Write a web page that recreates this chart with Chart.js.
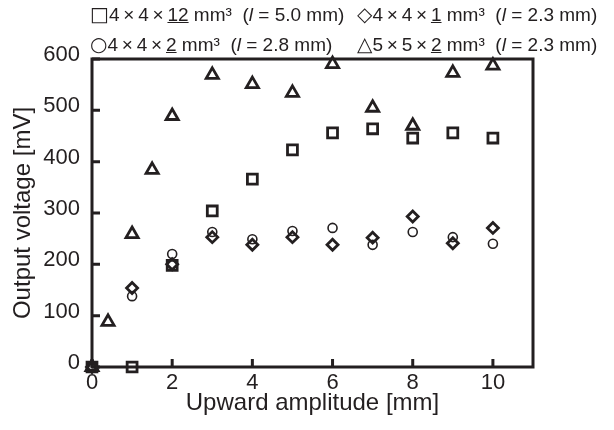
<!DOCTYPE html>
<html>
<head>
<meta charset="utf-8">
<script src="https://cdn.jsdelivr.net/npm/chart.js@4/dist/chart.umd.min.js"></script>
<style>
body { margin: 0; background: #fff; }
#wrap { position: relative; width: 614px; height: 430px; }
.legendItem {
    position: absolute;
    white-space: nowrap;
    font-family: Arial, "Liberation Sans", sans-serif;
    font-size: 19px;
    line-height: 20px;
    color: #231f20;
}
.sym { font-family: "DejaVu Sans", sans-serif; font-size: 20px; }
</style>
</head>
<body>
<div id="wrap">
    <canvas id="chart" width="614" height="430"></canvas>
    <div id="legend"></div>
</div>
<script>
const xTicks = [0, 2, 4, 6, 8, 10];
const yTicks = [0, 100, 200, 300, 400, 500, 600];

const amplitudes = [0, 1, 2, 3, 4, 5, 6, 7, 8, 9, 10];
const squareVoltage = [0, 0, 198, 304, 366, 423, 456, 464, 446, 456, 446];
const diamondVoltage = [0, 154, 200, 253, 238, 253, 238, 252, 293, 241, 271];
const circleVoltage = [0, 138, 220, 263, 249, 265, 271, 238, 263, 253, 240];
const triangleAmplitudes = [0, 0.4, 1, 1.5, 2, 3, 4, 5, 6, 7, 8, 9, 10];
const triangleVoltage = [0, 88, 259, 384, 489, 569, 551, 534, 590, 505, 470, 573, 587];

// legend text: symbol, size, length
const legendSymbols = ["□", "◇", "○", "△"];
const legendSizes = [["4", "4", "12"], ["4", "4", "1"], ["4", "4", "2"], ["5", "5", "2"]];
const legendLengths = ["5.0", "2.3", "2.8", "2.3"];

const INK = "#231f20";
const FONT = "Arial, 'Liberation Sans', sans-serif";

const legend = document.getElementById("legend");
const legendPos = [[90, 4], [357, 4], [90, 34], [357, 34]];
const ts = "\u2009";
legendSymbols.forEach((sym, i) => {
    const d = legendSizes[i];
    const div = document.createElement("div");
    div.className = "legendItem";
    div.style.left = legendPos[i][0] + "px";
    div.style.top = legendPos[i][1] + "px";
    div.innerHTML = `<span class="sym">${sym}</span>${d[0]}${ts}×${ts}${d[1]}${ts}×${ts}<u>${d[2]}</u> mm³&nbsp; (<i>l</i> = ${legendLengths[i]} mm)`;
    legend.appendChild(div);
});

function toPoints(xs, ys) {
    return xs.map((x, i) => ({ x: x, y: ys[i] }));
}

// frame box and inward tick marks
const framePlugin = {
    id: "frame",
    beforeDatasetsDraw(chart) {
        const { ctx, chartArea, scales } = chart;
        ctx.save();
        ctx.strokeStyle = INK;
        ctx.lineWidth = 3;
        ctx.strokeRect(chartArea.left, chartArea.top, chartArea.right - chartArea.left, chartArea.bottom - chartArea.top);
        ctx.beginPath();
        xTicks.forEach((v) => {
            const px = scales.x.getPixelForValue(v);
            ctx.moveTo(px, chartArea.bottom);
            ctx.lineTo(px, chartArea.bottom - 8);
        });
        yTicks.forEach((v) => {
            const py = scales.y.getPixelForValue(v);
            ctx.moveTo(chartArea.left, py);
            ctx.lineTo(chartArea.left + 8, py);
        });
        ctx.stroke();
        ctx.restore();
    },
};

const pointStyle = (style, radius, width) => ({
    pointStyle: style,
    pointRadius: radius,
    pointHoverRadius: radius,
    borderColor: INK,
    backgroundColor: "rgba(0,0,0,0)",
    borderWidth: width,
    showLine: false,
    clip: false,
});

new Chart(document.getElementById("chart"), {
    type: "scatter",
    data: {
        datasets: [
            { label: "circle", data: toPoints(amplitudes, circleVoltage), ...pointStyle("circle", 4.5, 1.6) },
            { label: "square", data: toPoints(amplitudes, squareVoltage), ...pointStyle("rect", 7, 2.8) },
            { label: "diamond", data: toPoints(amplitudes, diamondVoltage), ...pointStyle("rectRot", 5.5, 2.8) },
            { label: "triangle", data: toPoints(triangleAmplitudes, triangleVoltage), ...pointStyle("triangle", 7, 2.8) },
        ],
    },
    options: {
        responsive: false,
        animation: false,
        layout: { padding: { top: 59, right: 81, left: 0, bottom: 12 } },
        plugins: { legend: { display: false }, tooltip: { enabled: false } },
        scales: {
            x: {
                type: "linear",
                min: 0,
                max: 11,
                grid: { display: false, drawTicks: false },
                border: { display: false },
                afterBuildTicks: (s) => { s.ticks = xTicks.map((v) => ({ value: v })); },
                afterFit: (s) => { s.height = 51; },
                ticks: { color: INK, font: { family: FONT, size: 22 }, padding: 3 },
                title: { display: true, text: "Upward amplitude [mm]", color: INK, font: { family: FONT, size: 24 }, padding: 0 },
            },
            y: {
                min: 0,
                max: 600,
                grid: { display: false, drawTicks: false },
                border: { display: false },
                afterBuildTicks: (s) => { s.ticks = yTicks.map((v) => ({ value: v })); },
                afterFit: (s) => { s.width = 92; },
                ticks: { color: INK, font: { family: FONT, size: 22 }, padding: 12, labelOffset: -4 },
                title: { display: true, text: "Output voltage [mV]", color: INK, font: { family: FONT, size: 24 }, padding: 9 },
            },
        },
    },
    plugins: [framePlugin],
});
</script>
</body>
</html>
